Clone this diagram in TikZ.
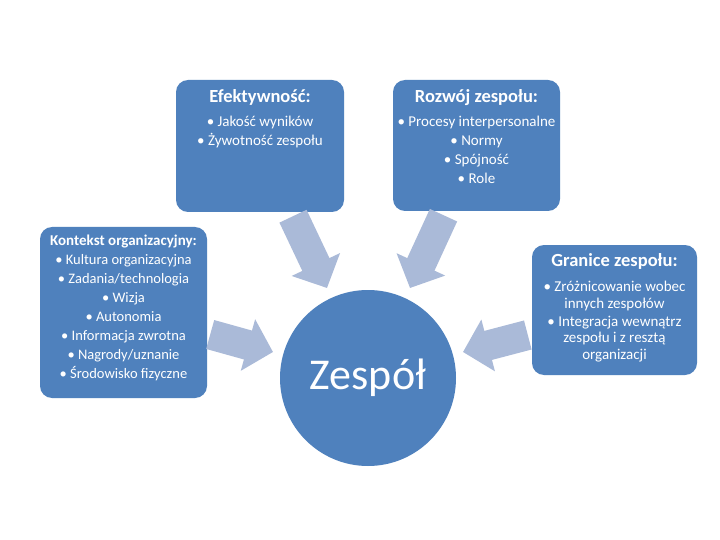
\documentclass[tikz,border=0pt]{standalone}
\usepackage{fontspec}
\setmainfont{Carlito}
\usetikzlibrary{positioning,arrows.meta}

\definecolor{boxblue}{RGB}{79,129,189}
\definecolor{arrowblue}{RGB}{170,186,216}

\tikzset{
  panel/.style={fill=boxblue, rounded corners=12pt, inner sep=0pt},
  titletext/.style={text=white, inner sep=0pt, font=\fontsize{18.5}{22}\selectfont\bfseries},
  listtext/.style={text=white, align=center, inner sep=0pt, font=\fontsize{15}{19}\selectfont},
  bigarrow/.style={draw=arrowblue, line width=30pt, -{Triangle[length=26pt,width=52pt]}}
}

\begin{document}
\begin{tikzpicture}[x=1pt,y=-1pt]
\fill[white] (0,0) rectangle (720,540);
\useasboundingbox (0,0) rectangle (720,540);

% the four panels and the team
\node[panel, minimum width=168pt, minimum height=132pt] (eff) at (260,146) {};
\node[panel, minimum width=167pt, minimum height=131pt] (roz) at (476.5,145.5) {};
\node[panel, minimum width=167pt, minimum height=171pt] (kon) at (123.5,312.5) {};
\node[panel, minimum width=165pt, minimum height=130pt] (gra) at (614.5,310) {};
\node[circle, fill=boxblue, minimum size=176pt, text=white,
      font=\fontsize{44}{44}\selectfont] (zes) at (368,378) {Zespół};

% texts
\node[titletext, below=10pt of eff.north] (efft) {Efektywność:};
\node[listtext, below=10pt of efft] (effl) {\textbullet~Jakość wyników\\ \textbullet~Żywotność zespołu};

\node[titletext, below=10pt of roz.north] (rozt) {Rozwój zespołu:};
\node[listtext, below=10pt of rozt] (rozl) {\textbullet~Procesy interpersonalne\\ \textbullet~Normy\\ \textbullet~Spójność\\ \textbullet~Role};

\node[titletext, font=\fontsize{15}{18}\selectfont\bfseries, below=7.5pt of kon.north] (kont) {Kontekst organizacyjny:};
\node[listtext, font=\fontsize{14.5}{19}\selectfont, below=6.5pt of kont] (konl) {\textbullet~Kultura organizacyjna\\ \textbullet~Zadania/technologia\\ \textbullet~Wizja\\ \textbullet~Autonomia\\ \textbullet~Informacja zwrotna\\ \textbullet~Nagrody/uznanie\\ \textbullet~Środowisko fizyczne};

\node[titletext, below=9pt of gra.north] (grat) {Granice zespołu:};
\node[listtext, font=\fontsize{15}{16.5}\selectfont, below=11pt of grat] (gral) {\textbullet~Zróżnicowanie wobec\\ innych zespołów\\[1.5pt] \textbullet~Integracja wewnątrz\\ zespołu i z resztą\\ organizacji};

% block arrows towards the team
\coordinate (a1s) at ([xshift=33pt,yshift=-4pt]eff.south);
\coordinate (a1e) at ([xshift=-41pt,yshift=90pt]zes.center);
\coordinate (a2s) at ([xshift=-33pt,yshift=-4pt]roz.south);
\coordinate (a2e) at ([xshift=42pt,yshift=90pt]zes.center);
\coordinate (a3s) at ([xshift=3pt,yshift=-22pt]kon.east);
\coordinate (a3e) at ([xshift=-95pt,yshift=26pt]zes.center);
\coordinate (a4s) at ([xshift=-4pt,yshift=-25pt]gra.west);
\coordinate (a4e) at ([xshift=95pt,yshift=26pt]zes.center);
\foreach \s/\e in {a1s/a1e,a2s/a2e,a3s/a3e,a4s/a4e}
    \draw[bigarrow] (\s) -- (\e);
\end{tikzpicture}
\end{document}
